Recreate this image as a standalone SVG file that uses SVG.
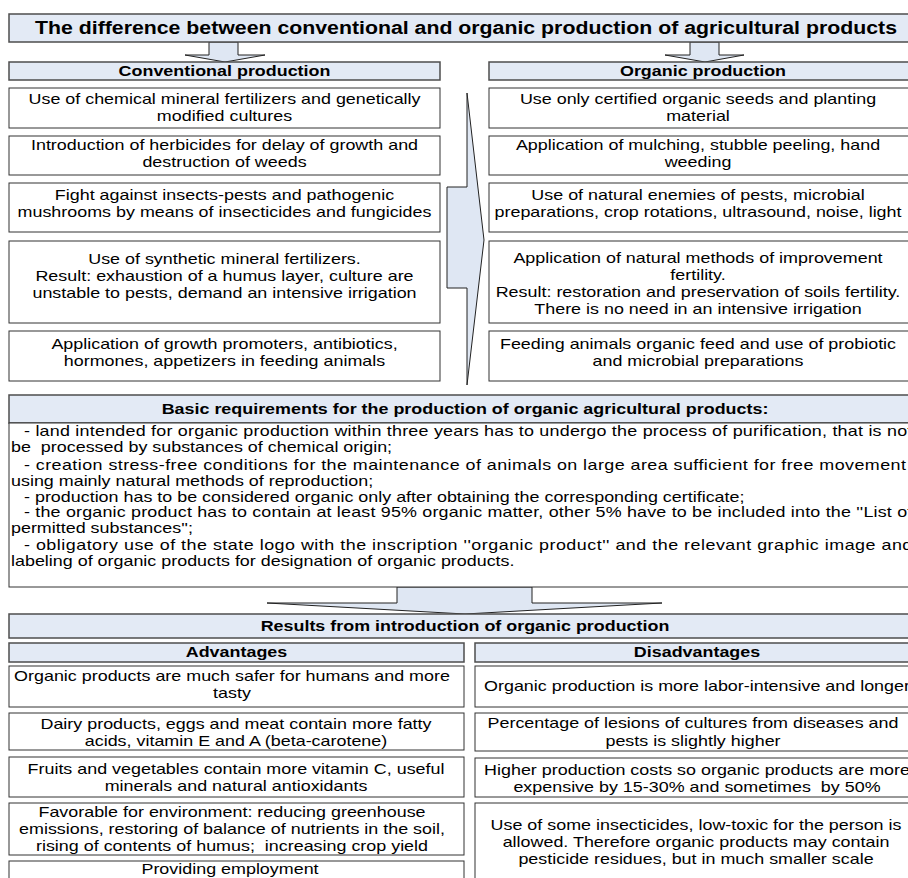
<svg xmlns="http://www.w3.org/2000/svg" width="908" height="878" viewBox="0 0 908 878">
<style>
.hdr{fill:#e3eaf5;stroke:#4d4d4d;stroke-width:1.5}
.box{fill:#fff;stroke:#333;stroke-width:1}
.arr{fill:#dfe7f3;stroke:#222;stroke-width:1;stroke-linejoin:miter}
text{font-family:"Liberation Sans",Arial,sans-serif;font-size:14px;fill:#000}
.c{text-anchor:middle}
.b{font-weight:bold}
.pre{white-space:pre}
</style>
<rect width="908" height="878" fill="#fff"/>

<g id="connectors">
  <polygon class="arr" points="209,42 238,42 238,55 265,55 225,62 185,55 209,55"/>
  <polygon class="arr" points="690,42 719,42 719,55 744,55 705,62 665,55 690,55"/>
  <polygon class="arr" points="467,93 484,240 467,385 467,288 447,288 447,187 467,187"/>
  <polygon class="arr" points="397,587 532,587 532,603 662,603 465,614 267,603 397,603"/>
</g>

<g id="title">
  <rect class="hdr" x="9" y="14" width="912" height="28"/>
  <text class="c b" x="466" y="34" font-size="18" style="font-size:18px" textLength="862" lengthAdjust="spacingAndGlyphs">The difference between conventional and organic production of agricultural products</text>
</g>

<g id="conventional-header">
  <rect class="hdr" x="9" y="62" width="431" height="18"/>
  <text class="c b" transform="matrix(1.28 0 0 1 224.5 0)" x="0" y="76">Conventional production</text>
</g>
<g id="organic-header">
  <rect class="hdr" x="489" y="62" width="430" height="18"/>
  <text class="c b" transform="matrix(1.28 0 0 1 703 0)" x="0" y="76">Organic production</text>
</g>

<g id="conv-1">
  <rect class="box" x="9" y="88" width="431" height="40"/>
  <text class="c" transform="matrix(1.28 0 0 1 224.5 0)"><tspan x="0" y="104">Use of chemical mineral fertilizers and genetically</tspan><tspan x="0" y="121">modified cultures</tspan></text>
</g>
<g id="conv-2">
  <rect class="box" x="9" y="136" width="431" height="39"/>
  <text class="c" transform="matrix(1.28 0 0 1 224.5 0)"><tspan x="0" y="150">Introduction of herbicides for delay of growth and</tspan><tspan x="0" y="167">destruction of weeds</tspan></text>
</g>
<g id="conv-3">
  <rect class="box" x="9" y="183" width="431" height="49"/>
  <text class="c" transform="matrix(1.28 0 0 1 224.5 0)"><tspan x="0" y="200">Fight against insects-pests and pathogenic</tspan><tspan x="0" y="217">mushrooms by means of insecticides and fungicides</tspan></text>
</g>
<g id="conv-4">
  <rect class="box" x="9" y="241" width="431" height="82"/>
  <text class="c" transform="matrix(1.28 0 0 1 224.5 0)"><tspan x="0" y="264">Use of synthetic mineral fertilizers.</tspan><tspan x="0" y="281">Result: exhaustion of a humus layer, culture are</tspan><tspan x="0" y="298">unstable to pests, demand an intensive irrigation</tspan></text>
</g>
<g id="conv-5">
  <rect class="box" x="9" y="331" width="431" height="50"/>
  <text class="c" transform="matrix(1.28 0 0 1 224.5 0)"><tspan x="0" y="349">Application of growth promoters, antibiotics,</tspan><tspan x="0" y="366">hormones, appetizers in feeding animals</tspan></text>
</g>

<g id="org-1">
  <rect class="box" x="489" y="88" width="430" height="40"/>
  <text class="c" transform="matrix(1.28 0 0 1 698 0)"><tspan x="0" y="104">Use only certified organic seeds and planting</tspan><tspan x="0" y="121">material</tspan></text>
</g>
<g id="org-2">
  <rect class="box" x="489" y="136" width="430" height="39"/>
  <text class="c" transform="matrix(1.28 0 0 1 698 0)"><tspan x="0" y="150">Application of mulching, stubble peeling, hand</tspan><tspan x="0" y="167">weeding</tspan></text>
</g>
<g id="org-3">
  <rect class="box" x="489" y="183" width="430" height="49"/>
  <text class="c" transform="matrix(1.28 0 0 1 698 0)"><tspan x="0" y="200">Use of natural enemies of pests, microbial</tspan><tspan x="0" y="217">preparations, crop rotations, ultrasound, noise, light</tspan></text>
</g>
<g id="org-4">
  <rect class="box" x="489" y="241" width="430" height="82"/>
  <text class="c" transform="matrix(1.28 0 0 1 698 0)"><tspan x="0" y="263">Application of natural methods of improvement</tspan><tspan x="0" y="280">fertility.</tspan><tspan x="0" y="297">Result: restoration and preservation of soils fertility.</tspan><tspan x="0" y="314">There is no need in an intensive irrigation</tspan></text>
</g>
<g id="org-5">
  <rect class="box" x="489" y="331" width="430" height="50"/>
  <text class="c" transform="matrix(1.28 0 0 1 698 0)"><tspan x="0" y="349">Feeding animals organic feed and use of probiotic</tspan><tspan x="0" y="366">and microbial preparations</tspan></text>
</g>

<g id="requirements">
  <rect class="hdr" x="9" y="395" width="912" height="28"/>
  <rect class="box" x="9" y="423" width="912" height="164"/>
  <text class="c b" transform="matrix(1.28 0 0 1 465 0)" x="0" y="414">Basic requirements for the production of organic agricultural products:</text>
  <text transform="matrix(1.28 0 0 1 24 0)" x="0" y="436" textLength="694" lengthAdjust="spacing">- land intended for organic production within three years has to undergo the process of purification, that is not</text>
  <text class="pre" transform="matrix(1.28 0 0 1 11 0)" x="0" y="452">be  processed by substances of chemical origin;</text>
  <text transform="matrix(1.28 0 0 1 24 0)" x="0" y="470" textLength="689" lengthAdjust="spacing">- creation stress-free conditions for the maintenance of animals on large area sufficient for free movement</text>
  <text transform="matrix(1.28 0 0 1 11 0)" x="0" y="486">using mainly natural methods of reproduction;</text>
  <text transform="matrix(1.28 0 0 1 24 0)" x="0" y="502">- production has to be considered organic only after obtaining the corresponding certificate;</text>
  <text transform="matrix(1.28 0 0 1 24 0)" x="0" y="517" textLength="694" lengthAdjust="spacing">- the organic product has to contain at least 95% organic matter, other 5% have to be included into the ''List of</text>
  <text transform="matrix(1.28 0 0 1 11 0)" x="0" y="533">permitted substances'';</text>
  <text transform="matrix(1.28 0 0 1 24 0)" x="0" y="550" textLength="694" lengthAdjust="spacing">- obligatory use of the state logo with the inscription ''organic product'' and the relevant graphic image and</text>
  <text transform="matrix(1.28 0 0 1 11 0)" x="0" y="566">labeling of organic products for designation of organic products.</text>
</g>

<g id="results">
  <rect class="hdr" x="9" y="614" width="912" height="24"/>
  <text class="c b" transform="matrix(1.28 0 0 1 465 0)" x="0" y="631">Results from introduction of organic production</text>
</g>
<g id="advantages-header">
  <rect class="hdr" x="9" y="643" width="455" height="19"/>
  <text class="c b" transform="matrix(1.28 0 0 1 236.5 0)" x="0" y="657">Advantages</text>
</g>
<g id="disadvantages-header">
  <rect class="hdr" x="475" y="643" width="446" height="19"/>
  <text class="c b" transform="matrix(1.28 0 0 1 697 0)" x="0" y="657">Disadvantages</text>
</g>

<g id="adv-1">
  <rect class="box" x="9" y="666" width="455" height="41"/>
  <text class="c" transform="matrix(1.28 0 0 1 232 0)"><tspan x="0" y="681">Organic products are much safer for humans and more</tspan><tspan x="0" y="698">tasty</tspan></text>
</g>
<g id="adv-2">
  <rect class="box" x="9" y="713" width="455" height="37"/>
  <text class="c" transform="matrix(1.28 0 0 1 236 0)"><tspan x="0" y="729">Dairy products, eggs and meat contain more fatty</tspan><tspan x="0" y="746">acids, vitamin E and A (beta-carotene)</tspan></text>
</g>
<g id="adv-3">
  <rect class="box" x="9" y="757" width="455" height="40"/>
  <text class="c" transform="matrix(1.28 0 0 1 236 0)"><tspan x="0" y="774">Fruits and vegetables contain more vitamin C, useful</tspan><tspan x="0" y="791">minerals and natural antioxidants</tspan></text>
</g>
<g id="adv-4">
  <rect class="box" x="9" y="803" width="455" height="52"/>
  <text class="c pre" transform="matrix(1.28 0 0 1 232 0)"><tspan x="0" y="817">Favorable for environment: reducing greenhouse</tspan><tspan x="0" y="834">emissions, restoring of balance of nutrients in the soil,</tspan><tspan x="0" y="851">rising of contents of humus;  increasing crop yield</tspan></text>
</g>
<g id="adv-5">
  <rect class="box" x="9" y="861" width="455" height="30"/>
  <text class="c" transform="matrix(1.28 0 0 1 230 0)" x="0" y="874">Providing employment</text>
</g>

<g id="dis-1">
  <rect class="box" x="475" y="666" width="446" height="41"/>
  <text class="c" transform="matrix(1.28 0 0 1 697 0)" x="0" y="691">Organic production is more labor-intensive and longer</text>
</g>
<g id="dis-2">
  <rect class="box" x="475" y="713" width="446" height="38"/>
  <text class="c" transform="matrix(1.28 0 0 1 693 0)"><tspan x="0" y="728">Percentage of lesions of cultures from diseases and</tspan><tspan x="0" y="746">pests is slightly higher</tspan></text>
</g>
<g id="dis-3">
  <rect class="box" x="475" y="758" width="446" height="39"/>
  <text class="c pre" transform="matrix(1.28 0 0 1 697 0)"><tspan x="0" y="775">Higher production costs so organic products are more</tspan><tspan x="0" y="792">expensive by 15-30% and sometimes  by 50%</tspan></text>
</g>
<g id="dis-4">
  <rect class="box" x="475" y="803" width="446" height="90"/>
  <text class="c" transform="matrix(1.28 0 0 1 696 0)"><tspan x="0" y="830">Use of some insecticides, low-toxic for the person is</tspan><tspan x="0" y="847">allowed. Therefore organic products may contain</tspan><tspan x="0" y="864">pesticide residues, but in much smaller scale</tspan></text>
</g>
</svg>
